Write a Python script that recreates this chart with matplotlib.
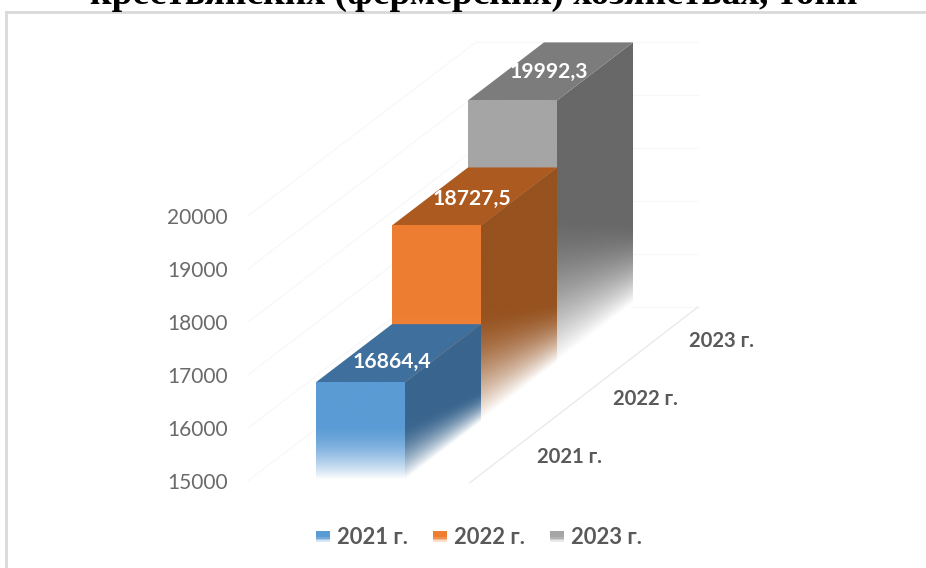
import numpy as np
import matplotlib
matplotlib.use("Agg")
import matplotlib.pyplot as plt
from matplotlib.patches import Polygon, Patch, Rectangle
from matplotlib.colors import to_rgb
from matplotlib.legend_handler import HandlerBase
from matplotlib.transforms import ScaledTranslation

# data
years = ["2021 г.", "2022 г.", "2023 г."]
values = [16864.4, 18727.5, 19992.3]
value_labels = ["16864,4", "18727,5", "19992,3"]
y_ticks = [15000, 16000, 17000, 18000, 19000, 20000]
title = "крестьянских (фермерских) хозяйствах, тонн"

front_colors = ["#5B9BD5", "#ED7D31", "#A5A5A5"]
top_colors = ["#3F6F9C", "#AD5A20", "#7C7C7C"]
side_colors = ["#39658E", "#96521F", "#686868"]

W, H = 926, 568
DPI = 100
PX_Y = 0.053       # px per value unit
PX_X = 76.0        # px per depth step
DEPTH_Y = 58 / PX_Y  # value units per depth step
BAR_W = 89 / PX_X
BASE = 15000
AX_LEFT = 233

fig = plt.figure(figsize=(W / DPI, H / DPI), dpi=DPI, facecolor="white")
ax = fig.add_axes([AX_LEFT / W, 0, 1 - AX_LEFT / W, 1])
xlim = ((AX_LEFT - 316) / PX_X, (W - 316) / PX_X)
ylim = (BASE - (H - 481) / PX_Y, BASE + 481 / PX_Y)
ax.set_xlim(*xlim)
ax.set_ylim(*ylim)
ax.patch.set_alpha(0)
for s in ax.spines.values():
    s.set_visible(False)
ax.set_xticks([])
ax.set_yticks(y_ticks)
ax.tick_params(axis="y", length=0, pad=4, labelsize=15, labelcolor="#6A6A6A")
down = ScaledTranslation(0, -2 / DPI, fig.dpi_scale_trans)
for t in ax.get_yticklabels():
    t.set_fontfamily("Lato")
    t.set_va("center")
    t.set_transform(t.get_transform() + down)

# chart frame
frame_c = "#D9D9D9"
fig.add_artist(plt.Line2D([6 / W, 6 / W], [0, 1 - 12 / H], color=frame_c, lw=2))
fig.add_artist(plt.Line2D([6 / W, 1], [1 - 12 / H, 1 - 12 / H], color=frame_c, lw=2))

# title (cut by top edge as in the source)
fig.text(474 / W, 1 - 4 / H, title, family="Liberation Serif", weight="bold",
         fontsize=27, ha="center", va="baseline", color="black", clip_on=False)

# faint grid on walls and floor
grid_c = "#F7F7F7"
wall_x = (248 - 316) / PX_X
back_end = (698 - 316) / PX_X
for v in y_ticks:
    ax.plot([wall_x, wall_x + 3], [v, v + 3 * DEPTH_Y], color=grid_c, lw=0.8, zorder=0)
    ax.plot([wall_x + 3, back_end], [v + 3 * DEPTH_Y] * 2, color=grid_c, lw=0.8, zorder=0)
ax.plot([back_end - 3, back_end], [BASE - 30, BASE + 3 * DEPTH_Y], color="#E8E8E8", lw=0.9, zorder=0)


def shade(color, vals, top, depth):
    """Blend colour to white near the base of a bar."""
    fade = 0.55 * (top - BASE) * (1 - 0.45 * depth)
    a = np.clip((vals - BASE - 0.015 * (top - BASE)) / fade, 0, 1)
    a = 1 - (1 - a) ** 1.6
    c = np.array(to_rgb(color))
    return a[..., None] * c + (1 - a[..., None])


def face_image(poly, color, top, sheared, x_ref, base_off, z):
    xs = np.array([p[0] for p in poly])
    ys = np.array([p[1] for p in poly])
    x0, x1, y0, y1 = xs.min(), xs.max(), ys.min(), ys.max()
    gx, gy = np.meshgrid(np.linspace(x0, x1, 200), np.linspace(y0, y1, 400))
    vals = gy - base_off
    depth = np.zeros_like(gx)
    if sheared:
        depth = gx - x_ref
        vals = vals - depth * DEPTH_Y
    img = ax.imshow(shade(color, vals, top, depth), origin="lower", extent=(x0, x1, y0, y1),
                    aspect="auto", zorder=z, interpolation="bilinear")
    clip = Polygon(poly, closed=True, transform=ax.transData, fc="none", ec="none")
    ax.add_patch(clip)
    img.set_clip_path(clip)


for i in [2, 1, 0]:
    v = values[i]
    dy = i * DEPTH_Y
    z = 3 + (2 - i) * 3
    xl, xr = i, i + BAR_W
    # side
    side = [(xr, BASE + dy), (xr + 1, BASE + dy + DEPTH_Y), (xr + 1, v + dy + DEPTH_Y), (xr, v + dy)]
    face_image(side, side_colors[i], v, True, xr, dy, z)
    # top
    ax.add_patch(Polygon([(xl, v + dy), (xr, v + dy), (xr + 1, v + dy + DEPTH_Y), (xl + 1, v + dy + DEPTH_Y)],
                         closed=True, fc=top_colors[i], ec="none", zorder=z + 1))
    # front
    front = [(xl, BASE + dy), (xr, BASE + dy), (xr, v + dy), (xl, v + dy)]
    face_image(front, front_colors[i], v, False, xr, dy, z + 1)

ax.set_xlim(*xlim)
ax.set_ylim(*ylim)

# value labels on top faces
for i, (dx, off) in enumerate([(1.0, 20), (1.05, 26), (1.07, 28)]):
    ax.text(i + dx, values[i] + i * DEPTH_Y + off / PX_Y, value_labels[i], color="white",
            family="Lato", weight="bold", fontsize=15.2, ha="center", va="center", zorder=30)

# depth axis labels
for i, y in enumerate(years):
    ax.text(3.34 + i, BASE + 452 + i * DEPTH_Y, y, color="#595959", family="Lato",
            weight="bold", fontsize=14.6, ha="center", va="center", zorder=30)


# legend with keys that pale toward the bottom
class FadeKey(HandlerBase):
    def create_artists(self, legend, orig, xd, yd, width, height, fontsize, trans):
        c = np.array(to_rgb(orig.get_facecolor()))
        n = 6
        out = []
        for k in range(n):
            a = min(1.0, 0.25 + k * 0.3)
            out.append(Rectangle((xd * -1, -yd + height * k / n), width, height / n + 0.3,
                                 fc=a * c + (1 - a), ec="none", transform=trans))
        return out


handles = [Patch(fc=c, ec="none") for c in front_colors]
fig.legend(handles, years, loc="center", bbox_to_anchor=(479 / W, 1 - 538 / H), ncol=3, frameon=False,
           prop={"family": "Lato", "weight": "bold", "size": 15.8}, labelcolor="#595959",
           handler_map={Patch: FadeKey()},
           handlelength=0.65, handleheight=0.4, handletextpad=0.3, columnspacing=1.15, borderpad=0)

fig.savefig("out.png", dpi=DPI, facecolor="white")
